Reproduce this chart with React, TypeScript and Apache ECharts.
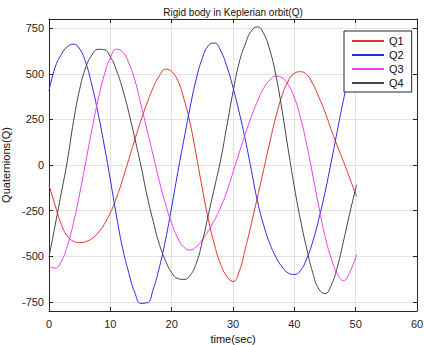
import React, { useEffect, useRef } from 'react';
import * as echarts from 'echarts';

const title = 'Rigid body in Keplerian orbit(Q)';
const xName = 'time(sec)';
const yName = 'Quaternions(Q)';
const xTicks = [0, 10, 20, 30, 40, 50, 60];
const yTicks = [-750, -500, -250, 0, 250, 500, 750];
const seriesNames = ['Q1', 'Q2', 'Q3', 'Q4'];

// sample times (sec)
const times = [
  0, 1, 2, 3, 4, 5, 6, 7, 8, 9, 10, 11, 12, 13, 14, 15, 16, 17, 18, 19, 20, 21, 22, 23, 24,
  25, 26, 27, 28, 29, 30, 31, 32, 33, 34, 35, 36, 37, 38, 39, 40, 41, 42, 43, 44, 45, 46, 47,
  48, 49, 50.15,
];
const q1 = [
  -110, -220, -325, -390, -418, -425, -420, -403, -372, -325, -262, -180, -80, 30, 140, 245,
  340, 425, 488, 525, 512, 462, 362, 230, 55, -130, -300, -440, -545, -610, -638, -585, -460,
  -320, -175, -25, 125, 265, 380, 460, 502, 511, 495, 445, 372, 290, 195, 105, 20, -70, -172,
];
const q2 = [
  405, 535, 605, 648, 662, 636, 560, 436, 284, 109, -81, -279, -456, -590, -700, -758, -755,
  -680, -560, -410, -230, -40, 140, 315, 470, 585, 655, 668, 625, 540, 425, 290, 140, -30,
  -200, -330, -430, -505, -558, -592, -600, -578, -515, -420, -295, -150, 15, 185, 355, 495, 610,
];
const q3 = [
  -557, -565, -528, -442, -315, -157, 18, 195, 357, 492, 587, 634, 620, 560, 465, 330, 190, 50,
  -90, -215, -320, -400, -450, -466, -448, -410, -360, -300, -230, -145, -40, 65, 170, 265, 350,
  420, 465, 487, 478, 440, 370, 260, 115, -55, -230, -390, -510, -595, -633, -590, -490,
];
const q4 = [
  -505, -330, -155, 25, 240, 415, 535, 603, 634, 632, 593, 519, 416, 289, 145, -5, -170, -310,
  -435, -525, -590, -622, -627, -605, -540, -420, -270, -120, 30, 215, 400, 560, 662, 735, 757,
  720, 630, 490, 300, 85, -120, -300, -455, -590, -680, -704, -660, -560, -420, -270, -108,
];
const seriesValues = [q1, q2, q3, q4];
const colors = ['#e5332e', '#2a2aee', '#ee3cee', '#454545'];

const FONT = "'Liberation Sans', Arial, sans-serif";
const AX = '#262626';
const GRID = '#e2e2e2';

export default function App() {
  const ref = useRef<HTMLDivElement>(null);
  useEffect(() => {
    if (!ref.current) return;
    const chart = echarts.init(ref.current, null, { renderer: 'svg' });
    const axisLine = { show: true, onZero: false, lineStyle: { color: AX, width: 1 } };
    const tick = { show: true, inside: true, length: 4, lineStyle: { color: AX, width: 1 } };
    chart.setOption({
      animation: false,
      backgroundColor: '#ffffff',
      graphic: [
        {
          type: 'text',
          x: 233,
          y: 12.5,
          style: {
            text: title,
            fontFamily: FONT,
            fontSize: 10,
            fill: '#111',
            align: 'center',
            verticalAlign: 'middle',
          },
        },
      ],
      grid: { left: 49, right: 7, top: 19, bottom: 34, containLabel: false, outerBoundsMode: 'none' },
      legend: {
        data: seriesNames,
        orient: 'vertical',
        left: 344,
        top: 31,
        padding: [3, 8, 2, 7],
        itemGap: 0,
        itemWidth: 32,
        itemHeight: 14,
        itemStyle: { opacity: 0 },
        backgroundColor: '#ffffff',
        borderColor: AX,
        borderWidth: 1,
        textStyle: { fontFamily: FONT, fontSize: 11, color: '#111', lineHeight: 14 },
      },
      xAxis: [
        {
          type: 'value', min: 0, max: 60, interval: 10, position: 'bottom',
          axisLine, axisTick: tick,
          axisLabel: { color: AX, fontSize: 11, fontFamily: FONT, margin: 7, customValues: xTicks },
          splitLine: { show: true, lineStyle: { color: GRID, width: 1 } },
          name: xName, nameLocation: 'middle', nameGap: 22,
          nameTextStyle: { fontFamily: FONT, fontSize: 11, color: '#111' },
        },
        {
          type: 'value', min: 0, max: 60, interval: 10, position: 'top',
          axisLine, axisTick: tick, axisLabel: { show: false }, splitLine: { show: false },
        },
      ],
      yAxis: [
        {
          type: 'value', min: -800, max: 800, position: 'left',
          axisLine, axisTick: { ...tick, customValues: yTicks },
          axisLabel: { color: AX, fontSize: 11, fontFamily: FONT, margin: 5, customValues: yTicks },
          splitLine: { show: true, lineStyle: { color: GRID, width: 1 } },
          name: yName, nameLocation: 'middle', nameGap: 31,
          nameTextStyle: { fontFamily: FONT, fontSize: 11, color: '#111' },
        },
        {
          type: 'value', min: -800, max: 800, position: 'right',
          axisLine, axisTick: { ...tick, customValues: yTicks },
          axisLabel: { show: false, customValues: yTicks }, splitLine: { show: false },
        },
      ],
      series: seriesNames.map((name, i) => ({
        name,
        type: 'line',
        xAxisIndex: 0,
        yAxisIndex: 0,
        data: times.map((t, j) => [t, seriesValues[i][j]]),
        symbol: 'none',
        showSymbol: false,
        smooth: 0.5,
        color: colors[i],
        lineStyle: { color: colors[i], width: 1 },
        z: 2,
      })),
    });
    return () => chart.dispose();
  }, []);
  return (
    <div
      ref={ref}
      style={{ position: 'absolute', left: 0, top: 0, width: 424, height: 345 }}
    />
  );
}
